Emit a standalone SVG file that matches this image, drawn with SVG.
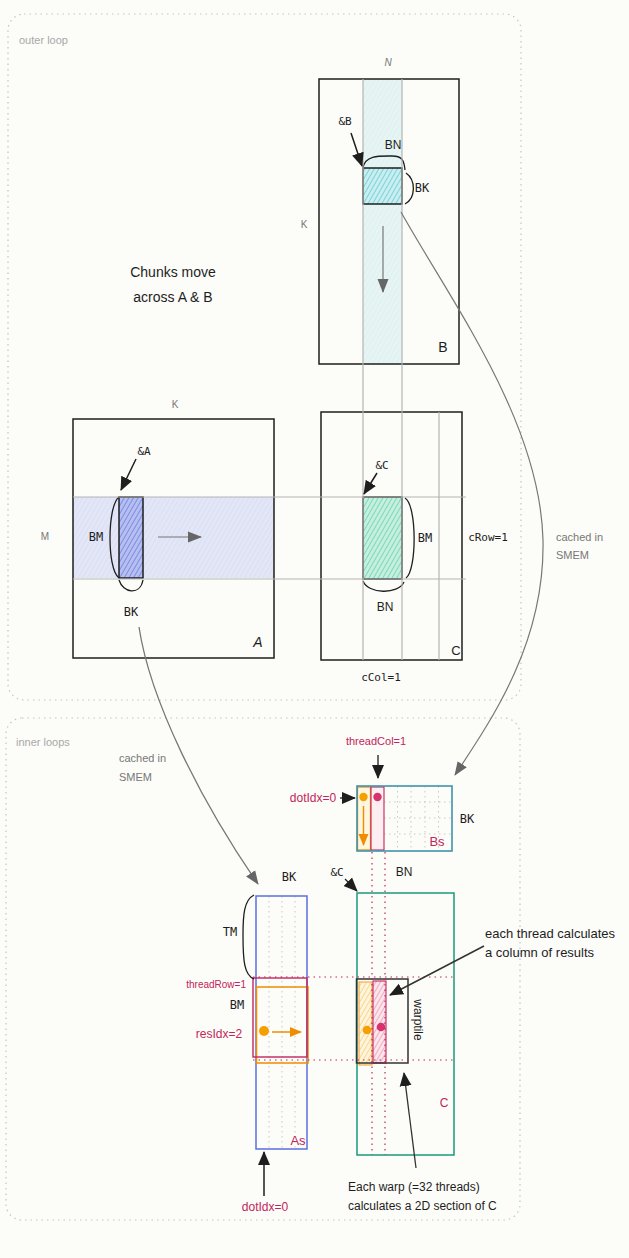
<svg xmlns="http://www.w3.org/2000/svg" width="629" height="1258" viewBox="0 0 629 1258">
<defs>
<style>
.hand{font-family:"Liberation Sans","DejaVu Sans",sans-serif;}
.mono{font-family:"DejaVu Sans Mono","Liberation Mono",monospace;}
.gray{fill:#777;}
.lgray{fill:#a8a8a8;}
.pink{fill:#c2255c;}
.blk{fill:#1e1e1e;}
.frame{fill:none;stroke:#c4c4c4;stroke-width:1.2;stroke-dasharray:1.5 4;}
.mat{fill:none;stroke:#1e1e1e;stroke-width:1.5;}
.guide{stroke:#b4b4b4;stroke-width:1.2;fill:none;}
.brace{fill:none;stroke:#1e1e1e;stroke-width:1.3;}
.pdot{stroke:#c2255c;stroke-width:1.2;stroke-dasharray:1.5 4;fill:none;}
.gdot{stroke:#c8c8c8;stroke-width:1;stroke-dasharray:1.5 3.5;fill:none;}
</style>
<pattern id="hLightCyan" patternUnits="userSpaceOnUse" width="4" height="4" patternTransform="rotate(30)"><rect width="4" height="4" fill="#e6f5f3"/><line x1="0" y1="0" x2="0" y2="4" stroke="#d4eeec" stroke-width="1"/></pattern>
<pattern id="hLightBlue" patternUnits="userSpaceOnUse" width="4" height="4" patternTransform="rotate(30)"><rect width="4" height="4" fill="#e2e6f6"/><line x1="0" y1="0" x2="0" y2="4" stroke="#d2d8f2" stroke-width="1"/></pattern>
<pattern id="hCyan" patternUnits="userSpaceOnUse" width="4" height="4" patternTransform="rotate(30)"><rect width="4" height="4" fill="#c8eef0"/><line x1="0" y1="0" x2="0" y2="4" stroke="#3fbcc6" stroke-width="1.1"/></pattern>
<pattern id="hGreen" patternUnits="userSpaceOnUse" width="4" height="4" patternTransform="rotate(30)"><rect width="4" height="4" fill="#c6efdf"/><line x1="0" y1="0" x2="0" y2="4" stroke="#3cc79a" stroke-width="1.1"/></pattern>
<pattern id="hBlue" patternUnits="userSpaceOnUse" width="4" height="4" patternTransform="rotate(30)"><rect width="4" height="4" fill="#b5bff0"/><line x1="0" y1="0" x2="0" y2="4" stroke="#5563d6" stroke-width="1.1"/></pattern>
<pattern id="hOrange" patternUnits="userSpaceOnUse" width="4" height="4" patternTransform="rotate(30)"><rect width="4" height="4" fill="#fff4dc"/><line x1="0" y1="0" x2="0" y2="4" stroke="#f5b94a" stroke-width="1"/></pattern>
<pattern id="hPink" patternUnits="userSpaceOnUse" width="4" height="4" patternTransform="rotate(30)"><rect width="4" height="4" fill="#fbe4ec"/><line x1="0" y1="0" x2="0" y2="4" stroke="#e27a98" stroke-width="1"/></pattern>
<marker id="aBlack" markerUnits="userSpaceOnUse" markerWidth="14" markerHeight="14" viewBox="0 0 14 14" refX="13" refY="7" orient="auto"><path d="M0,1 L14,7 L0,13 Z" fill="#1e1e1e"/></marker>
<marker id="aGray" markerUnits="userSpaceOnUse" markerWidth="14" markerHeight="14" viewBox="0 0 14 14" refX="13" refY="7" orient="auto"><path d="M0,1.5 L14,7 L0,12.5 Z" fill="#666"/></marker>
<marker id="aOrange" markerUnits="userSpaceOnUse" markerWidth="12" markerHeight="12" viewBox="0 0 12 12" refX="11" refY="6" orient="auto"><path d="M0,1 L12,6 L0,11 Z" fill="#f08c00"/></marker>
</defs>
<rect width="629" height="1258" fill="#fcfcf8"/>

<g id="outer-loop">
<rect class="frame" x="8" y="14" width="513" height="686" rx="16"/>
<text class="hand lgray" x="19" y="44" font-size="11">outer loop</text>
<text class="hand blk" x="173" y="277" font-size="14" text-anchor="middle">Chunks move</text>
<text class="hand blk" x="173" y="302" font-size="14" text-anchor="middle">across A &amp; B</text>
</g>

<g id="inner-loops">
<rect class="frame" x="6" y="718" width="514" height="502" rx="16"/>
<text class="hand lgray" x="16" y="746" font-size="11">inner loops</text>
</g>

<g id="matrix-B">
<rect x="363" y="79" width="39" height="285" fill="url(#hLightCyan)"/>
<rect class="mat" x="319" y="79" width="140" height="285"/>
<rect x="363" y="168" width="39" height="36" fill="url(#hCyan)" stroke="#1e1e1e" stroke-width="1.5"/>
<path class="brace" d="M363,168 C365,155 380,156 392,156 C402,156 404,160 405,170"/>
<path class="brace" d="M406,173 C416,180 416,198 405,204"/>
<text class="hand gray" x="388" y="66" font-size="10" font-style="italic" text-anchor="middle">N</text>
<text class="hand gray" x="304" y="228" font-size="10" text-anchor="middle">K</text>
<text class="hand blk" x="443" y="352" font-size="14" text-anchor="middle">B</text>
<text class="mono blk" x="345" y="125" font-size="11" text-anchor="middle">&amp;B</text>
<text class="hand blk" x="393" y="149" font-size="12" text-anchor="middle">BN</text>
<text class="mono blk" x="422" y="192" font-size="12" text-anchor="middle">BK</text>
</g>

<g id="matrix-A">
<rect x="73" y="497" width="201" height="81" fill="url(#hLightBlue)"/>
<rect class="mat" x="73" y="419" width="201" height="239"/>
<rect x="119" y="497" width="24" height="81" fill="url(#hBlue)" stroke="#1e1e1e" stroke-width="1.5"/>
<path class="brace" d="M119,497 C107,506 107,570 119,578"/>
<path class="brace" d="M119,580 C123,593 140,596 143,580"/>
<text class="hand gray" x="175" y="408" font-size="10" text-anchor="middle">K</text>
<text class="hand gray" x="45" y="540" font-size="10" text-anchor="middle">M</text>
<text class="hand blk" x="258" y="647" font-size="14" font-style="italic" text-anchor="middle">A</text>
<text class="mono blk" x="144" y="455" font-size="11" text-anchor="middle">&amp;A</text>
<text class="mono blk" x="96" y="541" font-size="12" text-anchor="middle">BM</text>
<text class="mono blk" x="131" y="616" font-size="12" text-anchor="middle">BK</text>
</g>

<g id="matrix-C">
<rect class="mat" x="321" y="412" width="141" height="248"/>
<line class="guide" x1="439" y1="412" x2="439" y2="660"/>
<rect x="363" y="497" width="39" height="82" fill="url(#hGreen)" stroke="#1e1e1e" stroke-width="1.5"/>
<path class="brace" d="M405,498 C417,505 417,570 406,578"/>
<path class="brace" d="M363,581 C368,594 398,595 404,582"/>
<text class="mono blk" x="382" y="469" font-size="11" text-anchor="middle">&amp;C</text>
<text class="mono blk" x="425" y="542" font-size="12" text-anchor="middle">BM</text>
<text class="hand blk" x="385" y="611" font-size="12" text-anchor="middle">BN</text>
<text class="mono blk" x="488" y="541" font-size="11" text-anchor="middle">cRow=1</text>
<text class="mono blk" x="381" y="681" font-size="11" text-anchor="middle">cCol=1</text>
<text class="hand blk" x="456" y="655" font-size="13" text-anchor="middle">C</text>
</g>

<g id="Bs">
<rect x="357" y="786" width="95" height="65" fill="#fcfcf8"/>
<line class="gdot" x1="397.5" y1="786" x2="397.5" y2="851"/>
<line class="gdot" x1="411" y1="786" x2="411" y2="851"/>
<line class="gdot" x1="425" y1="786" x2="425" y2="851"/>
<line class="gdot" x1="438.5" y1="786" x2="438.5" y2="851"/>
<line class="gdot" x1="384" y1="802" x2="452" y2="802"/>
<line class="gdot" x1="384" y1="818" x2="452" y2="818"/>
<line class="gdot" x1="384" y1="834" x2="452" y2="834"/>
<rect x="357.5" y="787" width="13" height="63" fill="#fff6df" stroke="#e8900c" stroke-width="1.3"/>
<rect x="371" y="787" width="13" height="63" fill="#fdeef2" stroke="#c2255c" stroke-width="1.1"/>
<rect x="357" y="786" width="95" height="65" fill="none" stroke="#3f93ab" stroke-width="1.6"/>
<circle cx="363.5" cy="797" r="4.2" fill="#f59f00"/>
<circle cx="377.5" cy="797" r="4.2" fill="#d6336c"/>
<line x1="363.5" y1="806" x2="363.5" y2="845" stroke="#f08c00" stroke-width="1.4" marker-end="url(#aOrange)"/>
<text class="hand pink" x="437" y="846" font-size="13" text-anchor="middle">Bs</text>
<text class="mono blk" x="467" y="823" font-size="12" text-anchor="middle">BK</text>
<text class="hand blk" x="404" y="876" font-size="12" text-anchor="middle">BN</text>
<text class="hand pink" x="376" y="745" font-size="11" text-anchor="middle">threadCol=1</text>
<text class="hand pink" x="313" y="802" font-size="12" text-anchor="middle">dotIdx=0</text>
</g>

<g id="As">
<line class="gdot" x1="269" y1="896" x2="269" y2="1149"/>
<line class="gdot" x1="282" y1="896" x2="282" y2="1149"/>
<line class="gdot" x1="295" y1="896" x2="295" y2="1149"/>
<rect x="256" y="896" width="51" height="253" fill="none" stroke="#5b6fe0" stroke-width="1.5"/>
<rect x="256.5" y="987" width="51.5" height="76" fill="none" stroke="#f08c00" stroke-width="1.5"/>
<rect x="253" y="978" width="54" height="79" fill="none" stroke="#c2255c" stroke-width="1.4"/>
<circle cx="264" cy="1031" r="5" fill="#f59f00"/>
<line x1="272" y1="1032" x2="301" y2="1032" stroke="#f08c00" stroke-width="1.5" marker-end="url(#aOrange)"/>
<path class="brace" d="M254,895 C244,900 243,915 243,935 C243,960 244,975 254,979"/>
<text class="mono blk" x="289" y="881" font-size="12" text-anchor="middle">BK</text>
<text class="mono blk" x="230" y="936" font-size="12" text-anchor="middle">TM</text>
<text class="hand pink" x="246" y="988" font-size="10" text-anchor="end">threadRow=1</text>
<text class="mono blk" x="237" y="1009" font-size="12" text-anchor="middle">BM</text>
<text class="hand pink" x="219" y="1038" font-size="12" text-anchor="middle">resIdx=2</text>
<text class="hand pink" x="298" y="1145" font-size="13" text-anchor="middle">As</text>
<text class="hand pink" x="265" y="1211" font-size="12" text-anchor="middle">dotIdx=0</text>
</g>

<g id="C-inner">
<rect x="357" y="893" width="97" height="262" fill="none" stroke="#1b9a78" stroke-width="1.5"/>
<rect x="359" y="982" width="13" height="83" fill="url(#hOrange)" stroke="#f2a93b" stroke-width="1.1"/>
<rect x="373" y="981" width="13" height="82" fill="url(#hPink)" stroke="#c2255c" stroke-width="1.1"/>
<rect x="356.5" y="979" width="51.5" height="84" fill="none" stroke="#333" stroke-width="1.5"/>
<circle cx="367" cy="1030" r="4.3" fill="#f59f00"/>
<circle cx="381" cy="1027" r="4.3" fill="#d6336c"/>
<text class="hand blk" x="0" y="0" font-size="12" text-anchor="middle" transform="translate(414,1020) rotate(90)">warptile</text>
<text class="hand pink" x="444" y="1107" font-size="12" text-anchor="middle">C</text>
<text class="mono blk" x="337" y="876" font-size="11" text-anchor="middle">&amp;C</text>
<text class="hand blk" x="485" y="938" font-size="13">each thread calculates</text>
<text class="hand blk" x="485" y="957" font-size="13">a column of results</text>
<text class="hand blk" x="348" y="1191" font-size="12">Each warp (=32 threads)</text>
<text class="hand blk" x="348" y="1210" font-size="12">calculates a 2D section of C</text>
</g>

<g id="connectors">
<line class="guide" x1="363" y1="79" x2="363" y2="660"/>
<line class="guide" x1="402" y1="79" x2="402" y2="660"/>
<line class="guide" x1="73" y1="497" x2="466" y2="497" stroke-width="1.6"/>
<line class="guide" x1="73" y1="579" x2="466" y2="579" stroke-width="1.6"/>
<line class="pdot" x1="372" y1="852" x2="372" y2="1155"/>
<line class="pdot" x1="385" y1="852" x2="385" y2="1155"/>
<line class="pdot" x1="253" y1="977" x2="456" y2="977"/>
<line class="pdot" x1="253" y1="1060" x2="456" y2="1060"/>
<line x1="383" y1="226" x2="383" y2="292" stroke="#777" stroke-width="1.2" marker-end="url(#aGray)"/>
<line x1="158" y1="537" x2="201" y2="537" stroke="#777" stroke-width="1.2" marker-end="url(#aGray)"/>
<line x1="351" y1="133" x2="362" y2="166" stroke="#1e1e1e" stroke-width="1.5" marker-end="url(#aBlack)"/>
<line x1="136" y1="459" x2="121" y2="490" stroke="#1e1e1e" stroke-width="1.5" marker-end="url(#aBlack)"/>
<line x1="377" y1="473" x2="364" y2="494" stroke="#1e1e1e" stroke-width="1.5" marker-end="url(#aBlack)"/>
<line x1="345" y1="879" x2="357" y2="891" stroke="#1e1e1e" stroke-width="1.2" marker-end="url(#aBlack)"/>
<line x1="378" y1="755" x2="378" y2="778" stroke="#1e1e1e" stroke-width="1.3" marker-end="url(#aBlack)"/>
<line x1="340" y1="798" x2="355" y2="798" stroke="#1e1e1e" stroke-width="1.3" marker-end="url(#aBlack)"/>
<line x1="264" y1="1196" x2="264" y2="1152" stroke="#1e1e1e" stroke-width="1.5" marker-end="url(#aBlack)"/>
<line x1="484" y1="946" x2="390" y2="995" stroke="#333" stroke-width="1.5" marker-end="url(#aBlack)"/>
<line x1="416" y1="1168" x2="404" y2="1073" stroke="#333" stroke-width="1.3" marker-end="url(#aBlack)"/>
<path d="M401,212 C450,300 540,420 543,540 C545,640 495,715 455,775" fill="none" stroke="#777" stroke-width="1.2" marker-end="url(#aGray)"/>
<path d="M139,627 C150,700 200,800 258,884" fill="none" stroke="#777" stroke-width="1.3" marker-end="url(#aGray)"/>
<text class="hand gray" x="556" y="541" font-size="11">cached in</text>
<text class="hand gray" x="556" y="559" font-size="11">SMEM</text>
<text class="hand gray" x="119" y="762" font-size="11">cached in</text>
<text class="hand gray" x="119" y="781" font-size="11">SMEM</text>
</g>
</svg>
